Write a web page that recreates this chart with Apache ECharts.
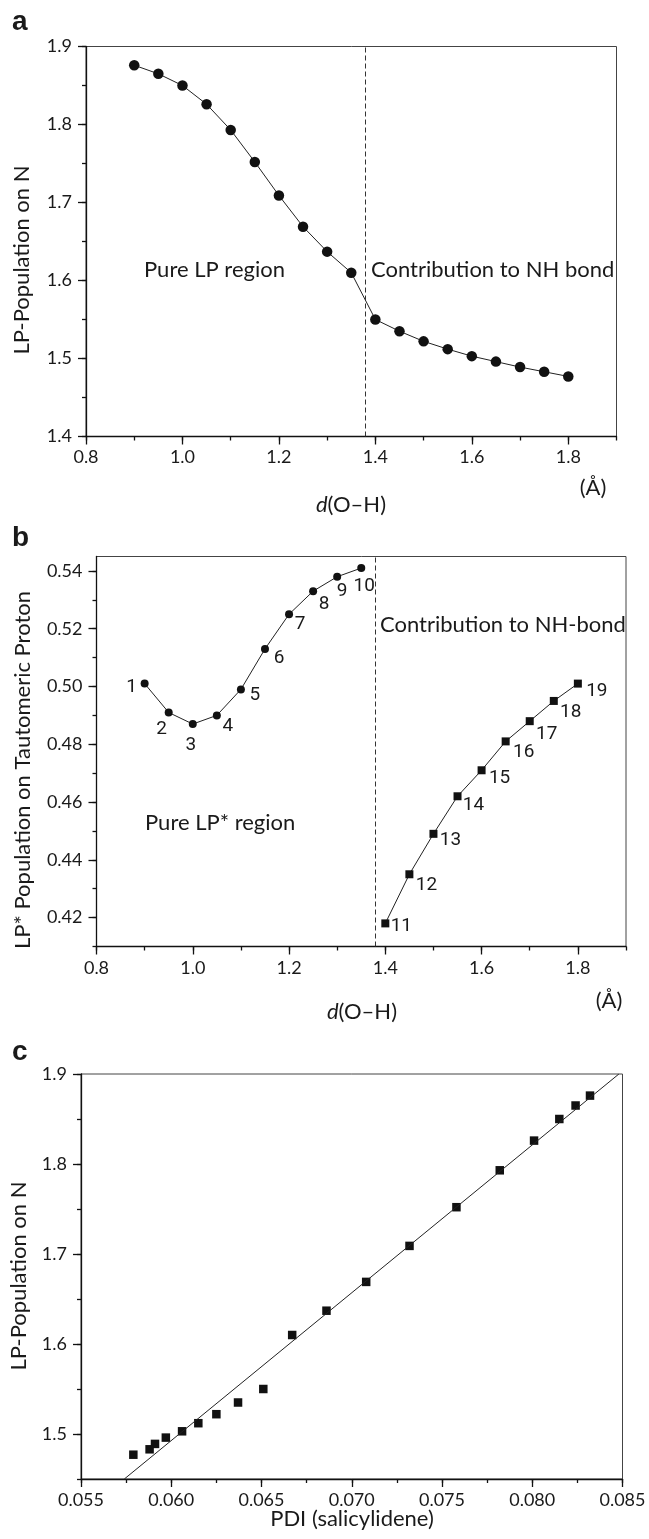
<!DOCTYPE html>
<html><head><meta charset="utf-8">
<script src="https://cdn.jsdelivr.net/npm/echarts@6/dist/echarts.min.js"></script>
<style>html,body{margin:0;padding:0;background:#fff}#chart{width:649px;height:1539px}</style>
</head><body><div id="chart"></div>
<script>
// ---------- data ----------
const dOH = [0.90,0.95,1.00,1.05,1.10,1.15,1.20,1.25,1.30,1.35,1.40,1.45,1.50,1.55,1.60,1.65,1.70,1.75,1.80];
const lpPopN = [1.876,1.865,1.850,1.826,1.793,1.752,1.709,1.669,1.637,1.610,1.550,1.535,1.522,1.512,1.503,1.496,1.489,1.483,1.477];
const dOHPure = [0.90,0.95,1.00,1.05,1.10,1.15,1.20,1.25,1.30,1.35];
const lpStarPure = [0.501,0.491,0.487,0.490,0.499,0.513,0.525,0.533,0.538,0.541];
const dOHNH = [1.40,1.45,1.50,1.55,1.60,1.65,1.70,1.75,1.80];
const lpStarNH = [0.418,0.435,0.449,0.462,0.471,0.481,0.488,0.495,0.501];
const pointNamesPure = ['1','2','3','4','5','6','7','8','9','10'];
const pointNamesNH = ['11','12','13','14','15','16','17','18','19'];
const pdi = [0.0832,0.0824,0.0815,0.0801,0.0782,0.0758,0.0732,0.0708,0.0686,0.0667,0.0651,0.0637,0.0625,0.0615,0.0606,0.0597,0.0591,0.0588,0.0579];
const fitPdi = [0.0574,0.0848];
const fitLp = [1.45,1.90];
const boundaryA = 1.377;
const boundaryB = 1.379;
const ticksAX = [0.8,1.0,1.2,1.4,1.6,1.8];
const ticksAY = [1.4,1.5,1.6,1.7,1.8,1.9];
const ticksBY = [0.42,0.44,0.46,0.48,0.50,0.52,0.54];
const ticksCX = [0.055,0.060,0.065,0.070,0.075,0.080,0.085];
const ticksCY = [1.5,1.6,1.7,1.8,1.9];

// label placement (style, not data): offset of number label from point centre
const labelOffsetsPure = [[-13,4],[-7,17],[-2,21],[11,11],[14,6],[14,9],[11,10],[11,13],[5,15],[3,18]];
const labelOffsetsNH = [[16,3],[17,11],[17,6],[16,9],[18,8],[18,11],[17,13],[17,11],[19,8]];

function steps(a, b, s) {
  const out = [];
  const n = Math.round((b - a) / s);
  for (let i = 0; i <= n; i++) out.push(+(a + i * s).toFixed(6));
  return out;
}

const FONT = 'Lato, "Open Sans", sans-serif';
const AX = '#111';
const TXT = '#1a1a1a';
const NAME_FS = 22;

function mainAxis(gi, pos, min, max, ticks, digits, margin) {
  return {
    gridIndex: gi, type: 'value', min: min, max: max, position: pos,
    axisLine: { show: true, onZero: false, lineStyle: { color: AX, width: 1.3 } },
    axisTick: { show: true, customValues: ticks, length: 8, inside: false, lineStyle: { color: AX, width: 1.3 } },
    axisLabel: { show: true, customValues: ticks, margin: margin, fontSize: 18, fontFamily: FONT, color: TXT,
      formatter: v => Number(v).toFixed(digits) },
    splitLine: { show: false }, minorTick: { show: false }
  };
}
function minorAxis(gi, pos, min, max, ticks) {
  return {
    gridIndex: gi, type: 'value', min: min, max: max, position: pos,
    axisLine: { show: false, onZero: false },
    axisTick: { show: true, customValues: ticks, length: 4, inside: false, lineStyle: { color: AX, width: 1.3 } },
    axisLabel: { show: false },
    splitLine: { show: false }
  };
}

const gridStyle = { show: true, borderColor: '#444', borderWidth: 1, backgroundColor: 'transparent', outerBoundsMode: 'none', containLabel: false };

function txt(text, x, y, opts) {
  opts = opts || {};
  return {
    type: 'text', x: x, y: y, rotation: opts.rot || 0, silent: true,
    style: Object.assign({
      text: text, fill: TXT, font: (opts.font || (NAME_FS + 'px ' + FONT)),
      align: opts.align || 'center', verticalAlign: 'middle'
    }, opts.style || {})
  };
}

const dRich = { i: { fontStyle: 'italic', fontSize: NAME_FS, fontFamily: FONT, fill: TXT }, n: { fontSize: NAME_FS, fontFamily: FONT, fill: TXT } };

const option = {
  animation: false,
  backgroundColor: '#fff',
  grid: [
    Object.assign({ left: 86, top: 46.5, width: 530.5, height: 390 }, gridStyle),
    Object.assign({ left: 96.5, top: 556.5, width: 529.5, height: 390 }, gridStyle),
    Object.assign({ left: 81, top: 1074, width: 541.5, height: 405 }, gridStyle)
  ],
  xAxis: [
    mainAxis(0, 'bottom', 0.8, 1.9, ticksAX, 1, 12),
    minorAxis(0, 'bottom', 0.8, 1.9, steps(0.8, 1.9, 0.1)),
    mainAxis(1, 'bottom', 0.8, 1.9, ticksAX, 1, 13),
    minorAxis(1, 'bottom', 0.8, 1.9, steps(0.8, 1.9, 0.1)),
    mainAxis(2, 'bottom', 0.055, 0.085, ticksCX, 3, 12),
    minorAxis(2, 'bottom', 0.055, 0.085, steps(0.055, 0.085, 0.0025))
  ],
  yAxis: [
    mainAxis(0, 'left', 1.4, 1.9, ticksAY, 1, 14),
    minorAxis(0, 'left', 1.4, 1.9, steps(1.4, 1.9, 0.05)),
    mainAxis(1, 'left', 0.41, 0.545, ticksBY, 2, 14),
    minorAxis(1, 'left', 0.41, 0.545, steps(0.41, 0.54, 0.01)),
    mainAxis(2, 'left', 1.45, 1.9, ticksCY, 1, 14),
    minorAxis(2, 'left', 1.45, 1.9, steps(1.45, 1.9, 0.05))
  ],
  series: [
    {
      type: 'line', xAxisIndex: 0, yAxisIndex: 0,
      data: dOH.map((x, i) => [x, lpPopN[i]]),
      symbol: 'circle', symbolSize: 10.5,
      itemStyle: { color: '#111', opacity: 1 }, lineStyle: { color: '#222', width: 1 },
      markLine: { silent: true, symbol: ['none', 'none'], label: { show: false },
        lineStyle: { type: [5, 3], color: '#333', width: 1 }, data: [{ xAxis: boundaryA }] }
    },
    {
      type: 'line', xAxisIndex: 2, yAxisIndex: 2,
      data: dOHPure.map((x, i) => ({ value: [x, lpStarPure[i]], name: pointNamesPure[i],
        label: { offset: labelOffsetsPure[i] } })),
      symbol: 'circle', symbolSize: 8,
      itemStyle: { color: '#111', opacity: 1 }, lineStyle: { color: '#222', width: 1 },
      label: { show: true, position: 'inside', formatter: p => p.name, color: TXT,
        fontSize: 19, fontFamily: '"Liberation Sans Narrow", "Arial Narrow", Roboto, sans-serif' },
      markLine: { silent: true, symbol: ['none', 'none'], label: { show: false },
        lineStyle: { type: [5, 3], color: '#333', width: 1 }, data: [{ xAxis: boundaryB }] }
    },
    {
      type: 'line', xAxisIndex: 2, yAxisIndex: 2,
      data: dOHNH.map((x, i) => ({ value: [x, lpStarNH[i]], name: pointNamesNH[i],
        label: { offset: labelOffsetsNH[i] } })),
      symbol: 'rect', symbolSize: 8,
      itemStyle: { color: '#111', opacity: 1 }, lineStyle: { color: '#222', width: 1 },
      label: { show: true, position: 'inside', formatter: p => p.name, color: TXT,
        fontSize: 19, fontFamily: '"Liberation Sans Narrow", "Arial Narrow", Roboto, sans-serif' }
    },
    {
      type: 'line', xAxisIndex: 4, yAxisIndex: 4,
      data: fitPdi.map((x, i) => [x, fitLp[i]]),
      symbol: 'none', lineStyle: { color: '#222', width: 1 }
    },
    {
      type: 'scatter', xAxisIndex: 4, yAxisIndex: 4,
      data: pdi.map((x, i) => [x, lpPopN[i]]),
      symbol: 'rect', symbolSize: 8.5,
      itemStyle: { color: '#111', opacity: 1 }
    }
  ],
  graphic: [
    txt('a', 12, 22, { align: 'left', font: 'bold 28px "Liberation Sans", Arial, sans-serif' }),
    txt('b', 12, 538, { align: 'left', font: 'bold 28px "Liberation Sans", Arial, sans-serif' }),
    txt('c', 12, 1052, { align: 'left', font: 'bold 28px "Liberation Sans", Arial, sans-serif' }),
    txt('LP-Population on N', 22, 260, { rot: Math.PI / 2 }),
    txt('LP* Population on Tautomeric Proton', 23, 770, { rot: Math.PI / 2 }),
    txt('LP-Population on N', 19, 1276, { rot: Math.PI / 2 }),
    txt('{i|d}{n|(O\u2013H)}', 351, 505, { style: { rich: dRich } }),
    txt('{i|d}{n|(O\u2013H)}', 362, 1012, { style: { rich: dRich } }),
    txt('PDI (salicylidene)', 352, 1519),
    txt('(\u00C5)', 593, 488),
    txt('(\u00C5)', 609, 1001),
    txt('Pure LP region', 144, 270, { align: 'left' }),
    txt('Contribution to NH bond', 371, 270, { align: 'left' }),
    txt('Contribution to NH-bond', 380, 625, { align: 'left' }),
    txt('Pure LP* region', 145, 823, { align: 'left' })
  ]
};

const chart = echarts.init(document.getElementById('chart'), null, { renderer: 'canvas' });
chart.setOption(option);
</script>
</body></html>
